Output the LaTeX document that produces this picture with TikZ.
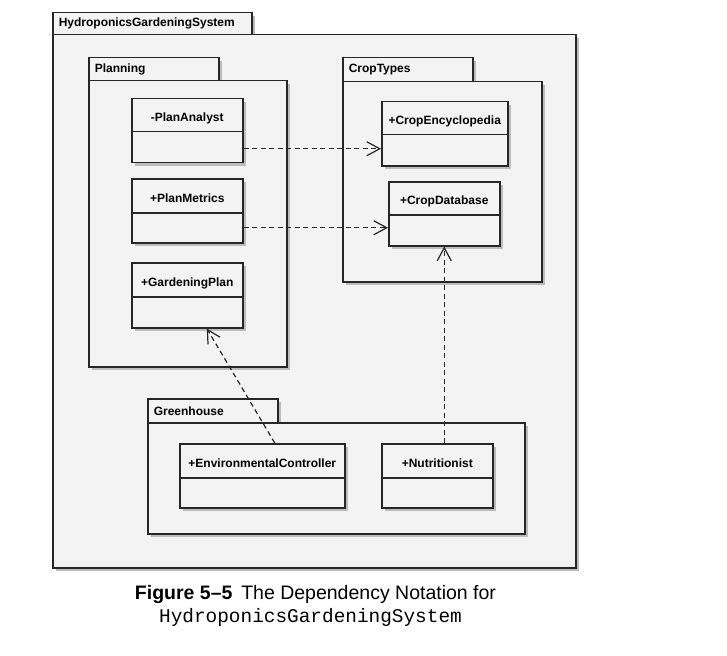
\documentclass[tikz,border=0pt]{standalone}
\usepackage{fontspec}
\setmainfont{Liberation Sans}
\newfontfamily\monof{Liberation Mono}
\usetikzlibrary{arrows.meta,calc}
\definecolor{linec}{HTML}{262626}
\definecolor{boxc}{HTML}{F3F3F3}
\definecolor{shadc}{HTML}{BCBCBC}
\tikzset{
  box/.style={draw=linec, fill=boxc, line width=1.5pt, inner sep=0pt, anchor=north west,
    preaction={fill=shadc, transform canvas={xshift=3pt,yshift=-3pt}}},
  tabbox/.style={box, font=\bfseries\fontsize{12}{13}\selectfont, inner xsep=6pt, align=left},
  cname/.style={box, font=\bfseries\fontsize{12}{13}\selectfont, align=center, text height=12.5pt, text depth=0pt},
  cbody/.style={box},
  dep/.style={draw=linec, line width=1.2pt, dash pattern=on 5pt off 3.5pt,
    -{Straight Barb[length=13pt,width=14pt,line width=1.2pt]}},
}
\begin{document}
\begin{tikzpicture}[x=1pt,y=-1pt]
\useasboundingbox (0,0) rectangle (727,655);
% system package
\node[tabbox, text width=187pt, minimum height=22pt] (syst) at (52,12) {HydroponicsGardeningSystem};
\node[box, minimum width=523pt, minimum height=533pt] (sysb) at (52,34) {};
% Planning
\node[tabbox, text width=118pt, minimum height=23pt] (plt) at (88,57) {Planning};
\node[box, minimum width=198pt, minimum height=286pt] (plb) at (88,80) {};
% CropTypes
\node[tabbox, text width=118pt, minimum height=24pt] (ctt) at (342,57) {CropTypes};
\node[box, minimum width=199pt, minimum height=200pt] (ctb) at (342,81) {};
% Greenhouse
\node[tabbox, text width=118pt, minimum height=24pt] (ght) at (147,398) {Greenhouse};
\node[box, minimum width=377pt, minimum height=111pt] (ghb) at (147,422) {};
% classes
\node[cname, minimum width=111pt, minimum height=33pt] (pa) at (131,98) {-PlanAnalyst};
\node[cbody, minimum width=111pt, minimum height=31pt] (pab) at (131,131) {};
\node[cname, minimum width=111pt, minimum height=34pt] (pm) at (131,178) {+PlanMetrics};
\node[cbody, minimum width=111pt, minimum height=30pt] (pmb) at (131,212) {};
\node[cname, minimum width=111pt, minimum height=34pt] (gp) at (131,262) {+GardeningPlan};
\node[cbody, minimum width=111pt, minimum height=31pt] (gpb) at (131,296) {};
\node[cname, minimum width=126pt, minimum height=33pt] (ce) at (381,101) {+CropEncyclopedia};
\node[cbody, minimum width=126pt, minimum height=31pt] (ceb) at (381,134) {};
\node[cname, minimum width=111pt, minimum height=33pt] (cd) at (388,181) {+CropDatabase};
\node[cbody, minimum width=111pt, minimum height=31pt] (cdb) at (388,214) {};
\node[cname, minimum width=165pt, minimum height=34pt] (ec) at (179,443) {+EnvironmentalController};
\node[cbody, minimum width=165pt, minimum height=30pt] (ecb) at (179,477) {};
\node[cname, minimum width=111pt, minimum height=34pt] (nu) at (381,443) {+Nutritionist};
\node[cbody, minimum width=111pt, minimum height=30pt] (nub) at (381,477) {};
% dependencies
\coordinate (a1) at ($(pab.east)+(0,1.5)$);
\draw[dep] (a1) -- (a1 -| ceb.west);
\draw[dep] (pmb.east) -- (pmb.east -| cdb.west);
\draw[dep] (nu.north -| cdb.south) -- (cdb.south);
\draw[dep] ([xshift=12.5pt]ec.north) -- ([xshift=19.5pt]gpb.south);
% caption
\node[font=\fontsize{19.5}{22}\selectfont, inner sep=0pt] (cap1) at (315.5,594) {\textbf{Figure 5–5}\hspace{0.45em}The Dependency Notation for};
\node[font=\monof\fontsize{19.4}{22}\selectfont, inner sep=0pt] (cap2) at (310.5,617) {HydroponicsGardeningSystem};
\end{tikzpicture}
\end{document}
